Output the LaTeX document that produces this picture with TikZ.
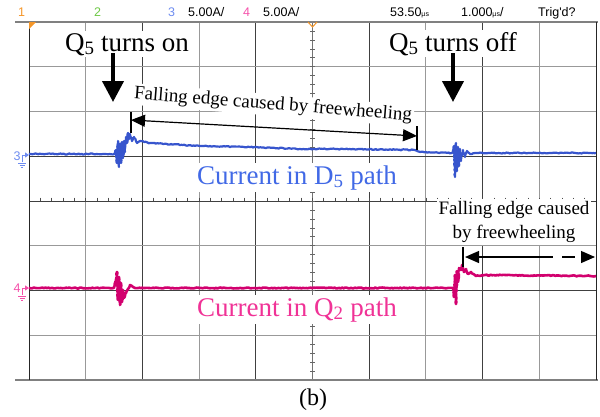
\documentclass[tikz,border=0pt]{standalone}
\usepackage{fontspec}
\setmainfont{Liberation Serif}
\newfontfamily\scopefont{Liberation Sans}
\usetikzlibrary{arrows.meta,decorations.pathmorphing}

\definecolor{chone}{RGB}{245,150,40}
\definecolor{chtwo}{RGB}{110,200,70}
\definecolor{chthree}{RGB}{110,140,240}
\definecolor{chfour}{RGB}{245,80,170}
\definecolor{dtrace}{RGB}{55,85,205}
\definecolor{dlabel}{RGB}{65,105,230}
\definecolor{qtrace}{RGB}{210,0,110}
\definecolor{qlabel}{RGB}{240,50,150}

\tikzset{
  gridlight/.style={black!40, line width=1.1pt},
  griddark/.style={black!75, line width=0.7pt},
  hdr/.style={font=\scopefont\fontsize{12.5}{13}\selectfont, inner sep=0pt, anchor=base west},
  bigtext/.style={font=\fontsize{27}{30}\selectfont, fill=white, inner sep=2pt, anchor=base},
  edgetext/.style={font=\fontsize{19}{24}\selectfont, fill=white, inner sep=2pt},
  bigarrow/.style={line width=4pt, -{Triangle[length=21pt,width=21pt]}},
  tip/.style={-{Triangle[length=14pt,width=12pt]}},
  dimline/.style={line width=1.2pt},
  trace/.style={line width=2.2pt, line join=round, decorate,
    decoration={random steps, segment length=1.5pt, amplitude=0.5pt}}
}
\newcommand{\usunit}{{\fontsize{7}{7}\selectfont µs}}

\pgfmathsetseed{7}

\begin{document}
\begin{tikzpicture}[x=1pt,y=-1pt]
  \useasboundingbox (0,0) rectangle (600,416);

  % header line
  \node[hdr, text=chone] (hone) at (18,16) {1};
  \node[hdr, text=chtwo] (htwo) at (94,16) {2};
  \node[hdr, text=chthree] (hthree) at (168,16) {3};
  \node[hdr] (hthreescale) at (188,16) {5.00A/};
  \node[hdr, text=chfour] (hfour) at (243,16) {4};
  \node[hdr] (hfourscale) at (263,16) {5.00A/};
  \node[hdr] (hdelay) at (390,16) {53.50\usunit};
  \node[hdr] (htime) at (461,16) {1.000\usunit/};
  \node[hdr] (htrig) at (538,16) {Trig'd?};

  % grid
  \foreach \x in {85.7,199.1,425.9,539.3}
    \draw[gridlight] (\x,22) -- (\x,380);
  \foreach \x in {142.4,255.8,369.2,482.6}
    \draw[griddark] (\x,22) -- (\x,380);
  \foreach \y in {66.75,111.5,245.75,335.25}
    \draw[gridlight] (29,\y) -- (596,\y);
  \foreach \y in {156.25,290.5}
    \draw[griddark] (29,\y) -- (596,\y);
  % centre axes with small ticks
  \draw[black!55, line width=0.9pt] (312.5,22) -- (312.5,380);
  \draw[griddark] (29,201) -- (596,201);
  \foreach \k in {1,...,39}
    \draw[black!60, line width=0.7pt] (310,22+\k*8.95) -- (315,22+\k*8.95);
  \foreach \k in {1,...,49}
    \draw[black!70, line width=0.7pt] (29+\k*11.34,197.5) -- (29+\k*11.34,201);
  % frame
  \draw[black!50, line width=1.3pt] (15,22) -- (598,22);
  \draw[black!50, line width=1.3pt] (15,380) -- (598,380);
  \draw[black!85, line width=0.8pt] (29,22) -- (29,380);
  \draw[black!85, line width=0.8pt] (596,22) -- (596,380);

  % trigger marks
  \fill[chone] (29,22) -- (36,22) -- (29,29) -- cycle;
  \draw[chone, line width=1pt] (308,22) -- (312.5,27) -- (317,22);

  % channel ground marks
  \node[hdr, text=chthree, anchor=center] (gthree) at (17,156) {3};
  \draw[chthree, line width=0.8pt, -{Triangle[length=4pt,width=5pt]}] (22,162) |- (29,155);
  \draw[chthree, line width=0.8pt] (18,163) -- (26,163) (19.5,165) -- (24.5,165) (21,167) -- (23,167);
  \node[hdr, text=chfour, anchor=center] (gfour) at (17,288) {4};
  \draw[chfour, line width=0.8pt, -{Triangle[length=4pt,width=5pt]}] (22,295) |- (29,288);
  \draw[chfour, line width=0.8pt] (18,296) -- (26,296) (19.5,298) -- (24.5,298) (21,300) -- (23,300);

  % traces
  \draw[trace, dtrace] (29,154) -- (114,154) -- (116,150) -- (117,163) -- (118,141)
    -- (119,167) -- (120,144) -- (121,163) -- (122,142) -- (123,158) -- (124,141)
    -- (125,152) -- (126,137) -- (127,143) -- (128,133) -- (129,139) -- (130,134)
    -- (132,141) -- (134,137) -- (137,143) -- (140,141) -- (150,143) -- (200,146)
    -- (250,147) -- (300,149) -- (350,149) -- (415,150) -- (420,152) -- (452,153)
    -- (454,146) -- (455,177) -- (456,143) -- (457,171) -- (458,147) -- (459,166)
    -- (460,149) -- (461,161) -- (463,150) -- (465,157) -- (467,151) -- (470,154)
    -- (475,153) -- (596,153);
  \draw[trace, qtrace, line width=2.6pt] (29,288) -- (114,288) -- (116,281) -- (117,272)
    -- (118,300) -- (119,277) -- (120,305) -- (121,283) -- (122,302) -- (123,290)
    -- (124,298) -- (126,293) -- (128,289) -- (130,285) -- (132,286) -- (135,288)
    -- (453,288) -- (454,297) -- (455,275) -- (456,304) -- (457,271) -- (458,282)
    -- (459,268) -- (461,270) -- (462,265) -- (464,272) -- (466,269) -- (468,274)
    -- (471,272) -- (476,276) -- (485,275) -- (596,276);

  % labels
  \node[bigtext] (on) at (127,51) {Q\textsubscript{5} turns on};
  \node[bigtext] (off) at (453,51) {Q\textsubscript{5} turns off};
  \node[bigtext, text=dlabel] (dlab) at (297,184) {Current in D\textsubscript{5} path};
  \node[bigtext, text=qlabel] (qlab) at (297,316) {Current in Q\textsubscript{2} path};
  \node[edgetext, rotate=-4.5] (edgeone) at (273,105) {Falling edge caused by freewheeling};
  \node[edgetext, align=center] (edgetwo) at (514,222) {Falling edge caused\\by freewheeling};
  \node[font=\fontsize{24}{26}\selectfont, inner sep=0pt, anchor=base] (cap) at (313,405) {(b)};

  % switching arrows
  \coordinate (ontop) at (113,53);
  \coordinate (ontip) at (113,102);
  \coordinate (offtop) at (453,53);
  \coordinate (offtip) at (453,102);
  \draw[bigarrow] (ontop) -- (ontip);
  \draw[bigarrow] (offtop) -- (offtip);

  % freewheeling span in D5 path
  \coordinate (dstarttop) at (131,112);
  \coordinate (dstartbot) at (131,133);
  \coordinate (dendtop) at (417,126);
  \coordinate (dendbot) at (417,150);
  \coordinate (dleft) at (131,120);
  \coordinate (dright) at (417,136);
  \draw[dimline] (dstarttop) -- (dstartbot);
  \draw[dimline] (dendtop) -- (dendbot);
  \draw[dimline, {Triangle[length=14pt,width=12pt]}-{Triangle[length=14pt,width=12pt]}] (dleft) -- (dright);

  % freewheeling span in Q2 path
  \coordinate (qstarttop) at (463,247);
  \coordinate (qstartbot) at (463,267);
  \coordinate (qleft) at (465,257);
  \coordinate (qmid) at (540,257);
  \coordinate (qright) at (595,257);
  \draw[dimline] (qstarttop) -- (qstartbot);
  \draw[dimline, tip] (qmid) -- (qleft);
  \draw[dimline, tip, dash pattern=on 13pt off 9pt] (qmid) -- (qright);
\end{tikzpicture}
\end{document}
